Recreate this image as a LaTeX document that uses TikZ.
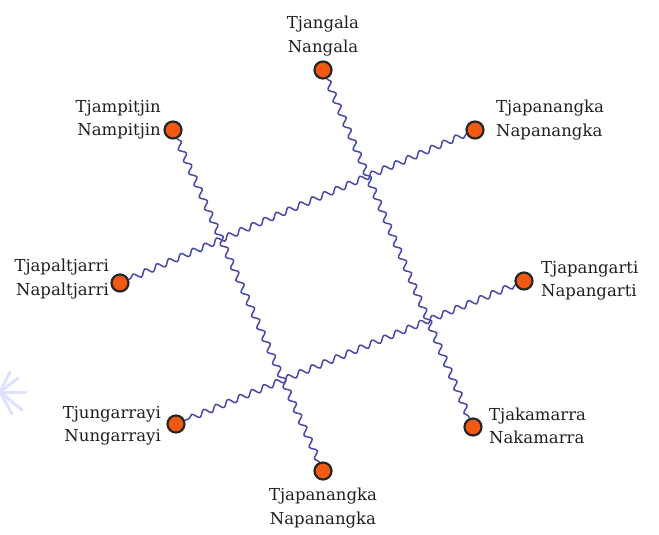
\documentclass[tikz,border=0pt]{standalone}
\usepackage{fontspec}
\setmainfont{DejaVu Serif}
\usetikzlibrary{decorations.pathmorphing}
\definecolor{dotor}{HTML}{F25A14}
\definecolor{wave}{HTML}{4848A8}
\tikzset{
  dot/.style={circle,fill=dotor,draw=black!85,line width=2.2pt,minimum size=17pt,inner sep=0pt},
  lab/.style={font=\fontsize{16.5}{23.5}\selectfont,inner sep=0pt,text=black!88},
  wavy/.style={draw=wave,line width=1.5pt,decorate,decoration={snake,segment length=13pt,amplitude=3pt}}
}
\begin{document}
\begin{tikzpicture}[x=1pt,y=-1pt]
\useasboundingbox (0,0) rectangle (659,535);
% faint artifact
\begin{scope}[draw=blue!12,line width=3pt,line cap=round]
\draw (0,392) -- (22,410);
\draw (0,392) -- (26,392);
\draw (0,392) -- (10,372);
\draw (0,392) -- (18,378);
\draw (0,392) -- (12,414);
\end{scope}
% dots
\node[dot] (n) at (323,70) {};
\node[dot] (nw) at (173,130) {};
\node[dot] (ne) at (475,130) {};
\node[dot] (w) at (120,283) {};
\node[dot] (e) at (524,281) {};
\node[dot] (sw) at (176,424) {};
\node[dot] (se) at (473,427) {};
\node[dot] (s) at (323,471) {};
% wavy lines
\draw[wavy] (n) -- (se);
\draw[wavy] (nw) -- (s);
\draw[wavy] (ne) -- (w);
\draw[wavy] (e) -- (sw);
% labels
\node[lab,align=center,anchor=south] (ln) at (323,56) {Tjangala\\Nangala};
\node[lab,align=right,anchor=east] (lnw) at (161,120) {Tjampitjin\\Nampitjin};
\node[lab,align=left,anchor=west] (lne) at (496,120) {Tjapanangka\\Napanangka};
\node[lab,align=right,anchor=east] (lw) at (109,279) {Tjapaltjarri\\Napaltjarri};
\node[lab,align=left,anchor=west] (le) at (541,281) {Tjapangarti\\Napangarti};
\node[lab,align=right,anchor=east] (lsw) at (161,426) {Tjungarrayi\\Nungarrayi};
\node[lab,align=left,anchor=west] (lse) at (489,426) {Tjakamarra\\Nakamarra};
\node[lab,align=center,anchor=north] (ls) at (323,488) {Tjapanangka\\Napanangka};
\end{tikzpicture}
\end{document}
